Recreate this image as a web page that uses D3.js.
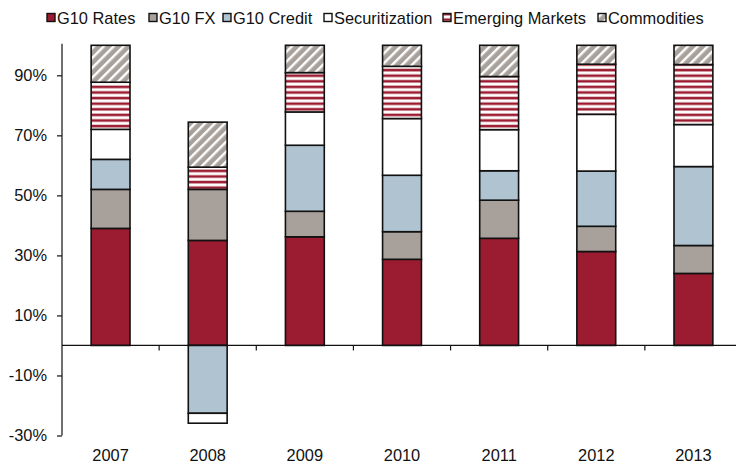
<!DOCTYPE html>
<html><head><meta charset="utf-8">
<script src="https://cdn.jsdelivr.net/npm/d3@7"></script>
<style>
html,body{margin:0;padding:0;background:#fff;}
svg{display:block;font-family:"Liberation Sans",Arial,sans-serif;}
</style></head>
<body><svg id="chart" width="736" height="465"></svg>
<script>
const categories = ["2007","2008","2009","2010","2011","2012","2013"];
const seriesNames = ["G10 Rates","G10 FX","G10 Credit","Securitization","Emerging Markets","Commodities"];
const g10Rates = [39, 35, 36.2, 28.7, 35.7, 31.3, 24];
const g10FX = [13, 17, 8.5, 9.2, 12.7, 8.4, 9.3];
const g10Credit = [10, -22.6, 22, 18.8, 9.8, 18.4, 26.3];
const securitization = [10, -3.3, 11.1, 18.9, 13.7, 18.9, 14];
const emergingMarkets = [15.7, 7.4, 13.1, 17.4, 17.7, 16.7, 20];
const commodities = [12.3, 15, 9.1, 7, 10.4, 6.3, 6.4];
const yTicks = [90, 70, 50, 30, 10, -10, -30];

const seriesValues = [g10Rates, g10FX, g10Credit, securitization, emergingMarkets, commodities];
const table = categories.map((c, i) => {
  const row = {cat: c};
  seriesNames.forEach((s, j) => row[s] = seriesValues[j][i]);
  return row;
});

const svg = d3.select("#chart");
const defs = svg.append("defs");
const RED = "#9B1B30", GRAY = "#A8A19B", BLUE = "#AFC3D0";

// horizontal stripes pattern (Emerging Markets)
const pEM = defs.append("pattern").attr("id","pEM").attr("patternUnits","userSpaceOnUse")
  .attr("width", 8).attr("height", 5.6);
pEM.append("rect").attr("width",8).attr("height",5.6).attr("fill","#fff");
pEM.append("rect").attr("y",1.6).attr("width",8).attr("height",2.6).attr("fill",RED);
// diagonal stripes pattern (Commodities)
const pC = defs.append("pattern").attr("id","pC").attr("patternUnits","userSpaceOnUse")
  .attr("width", 7).attr("height", 7).attr("patternTransform","rotate(45)");
pC.append("rect").attr("width",7).attr("height",7).attr("fill",GRAY);
pC.append("rect").attr("x",0).attr("width",2.4).attr("height",7).attr("fill","#fff");

const fills = [RED, GRAY, BLUE, "#fff", "url(#pEM)", "url(#pC)"];

const left = 62, right = 742;
const x = d3.scaleBand().domain(categories).range([left, right]).paddingInner(0.6).paddingOuter(0.3);
const y = d3.scaleLinear().domain([-30, 100]).range([435.5, 45.3]);

const stack = d3.stack().keys(seriesNames).offset(d3.stackOffsetDiverging);
const stacked = stack(table);

// bars
const g = svg.append("g");
stacked.forEach((layer, j) => {
  g.selectAll(null).data(layer).enter().append("rect")
    .attr("x", d => x(d.data.cat))
    .attr("width", x.bandwidth())
    .attr("y", d => y(Math.max(d[0], d[1])))
    .attr("height", d => Math.abs(y(d[0]) - y(d[1])))
    .attr("fill", fills[j])
    .attr("stroke", "#111").attr("stroke-width", 1.6);
});

// zero line / x axis
const xAxis = d3.axisBottom(x).tickSize(0).tickPadding(0).tickFormat(d => d);
const xg = svg.append("g").attr("transform", `translate(0,${y(0)})`);
xg.append("line").attr("x1", left).attr("x2", right).attr("stroke","#111").attr("stroke-width",1.2);
const step = x.step();
d3.range(1, categories.length).forEach(i => {
  const xx = left + i * step;
  xg.append("line").attr("x1", xx).attr("x2", xx).attr("y1", 0).attr("y2", 5).attr("stroke","#111").attr("stroke-width",1.2);
});
svg.append("g").attr("transform", `translate(0,${y(-30) + 14})`)
  .call(xAxis)
  .call(s => s.select(".domain").remove())
  .selectAll("text").attr("font-size", "16.4px").attr("fill", "#111")
  .attr("font-family", "Liberation Sans, Arial, sans-serif");

// y axis
const yAxis = d3.axisLeft(y).tickValues(yTicks).tickSize(5).tickSizeOuter(0).tickFormat(d => d + "%");
const yg = svg.append("g").attr("transform", `translate(${left},0)`).call(yAxis);
yg.select(".domain").attr("stroke","#111").attr("stroke-width",1.2).attr("d", `M0,${y(100)-1.5}V${y(-30)}`);
yg.selectAll(".tick line").attr("stroke","#111").attr("stroke-width",1.2);
yg.selectAll(".tick text").attr("font-size","16.4px").attr("fill","#111").attr("x", -15)
  .attr("font-family", "Liberation Sans, Arial, sans-serif");

// legend
const legendX = [47, 149, 223, 324, 443, 598];
const lg = svg.append("g");
seriesNames.forEach((s, j) => {
  lg.append("rect").attr("x", legendX[j]).attr("y", 13.5).attr("width", 8).attr("height", 8)
    .attr("fill", fills[j]).attr("stroke", "#111").attr("stroke-width", 1.4);
  lg.append("text").attr("x", legendX[j] + 10).attr("y", 23.5).attr("font-size", "16.4px")
    .attr("fill", "#111").text(s);
});
</script></body></html>
